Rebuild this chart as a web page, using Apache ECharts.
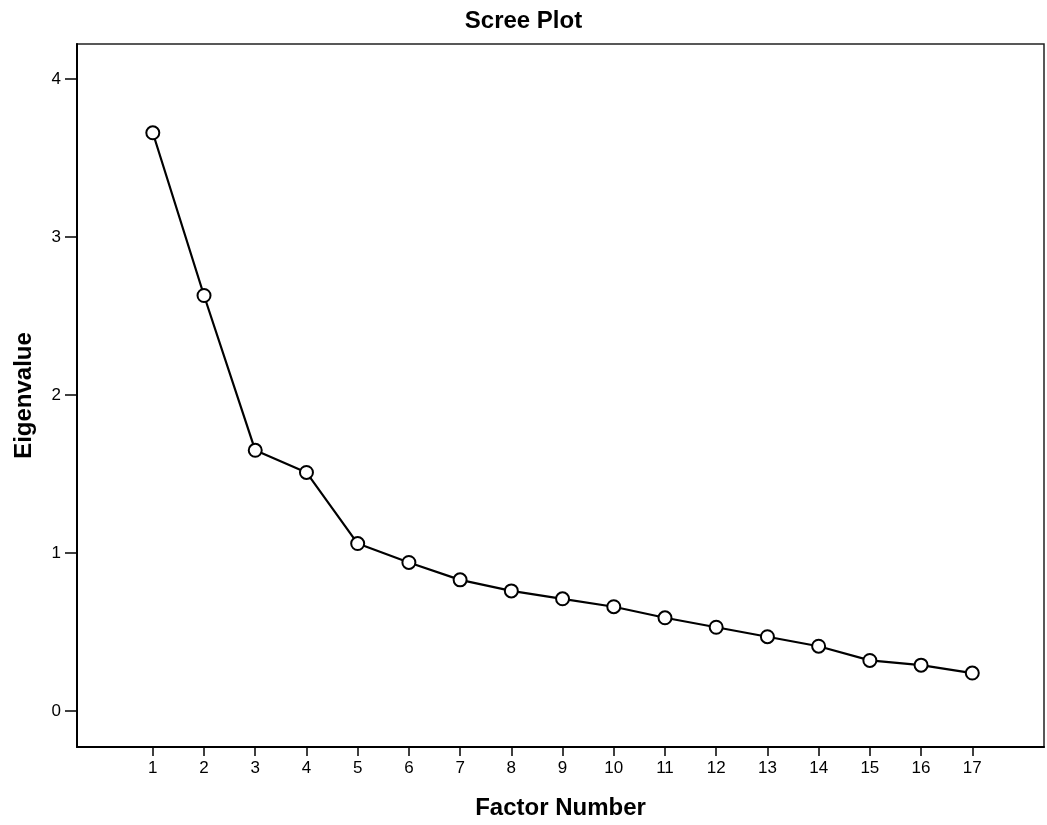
<!DOCTYPE html>
<html>
<head>
<meta charset="utf-8">
<script src="https://cdn.jsdelivr.net/npm/echarts@6/dist/echarts.min.js"></script>
<style>html,body{margin:0;padding:0;background:#fff;}#c{width:1047px;height:825px;}</style>
</head>
<body>
<div id="c"></div>
<script>
const factors = [1,2,3,4,5,6,7,8,9,10,11,12,13,14,15,16,17];
const eigenvalues = [3.66,2.63,1.65,1.51,1.06,0.94,0.83,0.76,0.71,0.66,0.59,0.53,0.47,0.41,0.32,0.29,0.24];
const yTicks = [0,1,2,3,4];
const chartTitle = 'Scree Plot';
const xTitle = 'Factor Number';
const yTitle = 'Eigenvalue';

const FONT = '"Liberation Sans", Arial, sans-serif';
const chart = echarts.init(document.getElementById('c'), null, {renderer:'canvas'});
chart.setOption({
  backgroundColor:'#fff',
  animation:false,
  title:{text:chartTitle,left:'center',top:4,
    textStyle:{fontFamily:FONT,fontWeight:'bold',fontSize:24,color:'#000'}},
  grid:{left:77,right:3,top:44,bottom:78,show:true,borderColor:'#222',borderWidth:1.5,backgroundColor:'#fff'},
  xAxis:{type:'value',min:-0.48,max:18.4,
    name:xTitle,nameLocation:'middle',nameGap:49,
    nameTextStyle:{fontFamily:FONT,fontWeight:'bold',fontSize:24,color:'#000'},
    axisLine:{show:true,onZero:false,lineStyle:{color:'#000',width:2}},
    axisTick:{show:true,customValues:factors,length:9,lineStyle:{color:'#000',width:1.5}},
    axisLabel:{customValues:factors,margin:13,fontFamily:FONT,fontSize:17,color:'#000'},
    splitLine:{show:false}},
  yAxis:{type:'value',min:-0.228,max:4.222,
    name:yTitle,nameLocation:'middle',nameGap:41,nameRotate:90,
    nameTextStyle:{fontFamily:FONT,fontWeight:'bold',fontSize:24,color:'#000'},
    axisLine:{show:true,onZero:false,lineStyle:{color:'#000',width:2}},
    axisTick:{show:true,customValues:yTicks,length:12,lineStyle:{color:'#000',width:1.5}},
    axisLabel:{customValues:yTicks,margin:16,fontFamily:FONT,fontSize:17,color:'#000'},
    splitLine:{show:false}},
  series:[{type:'line',data:factors.map((f,i)=>[f,eigenvalues[i]]),
    symbol:'emptyCircle',symbolSize:13,
    lineStyle:{color:'#000',width:2.2},
    itemStyle:{color:'#000',borderColor:'#000',borderWidth:1.6}}]
});
</script>
</body>
</html>
